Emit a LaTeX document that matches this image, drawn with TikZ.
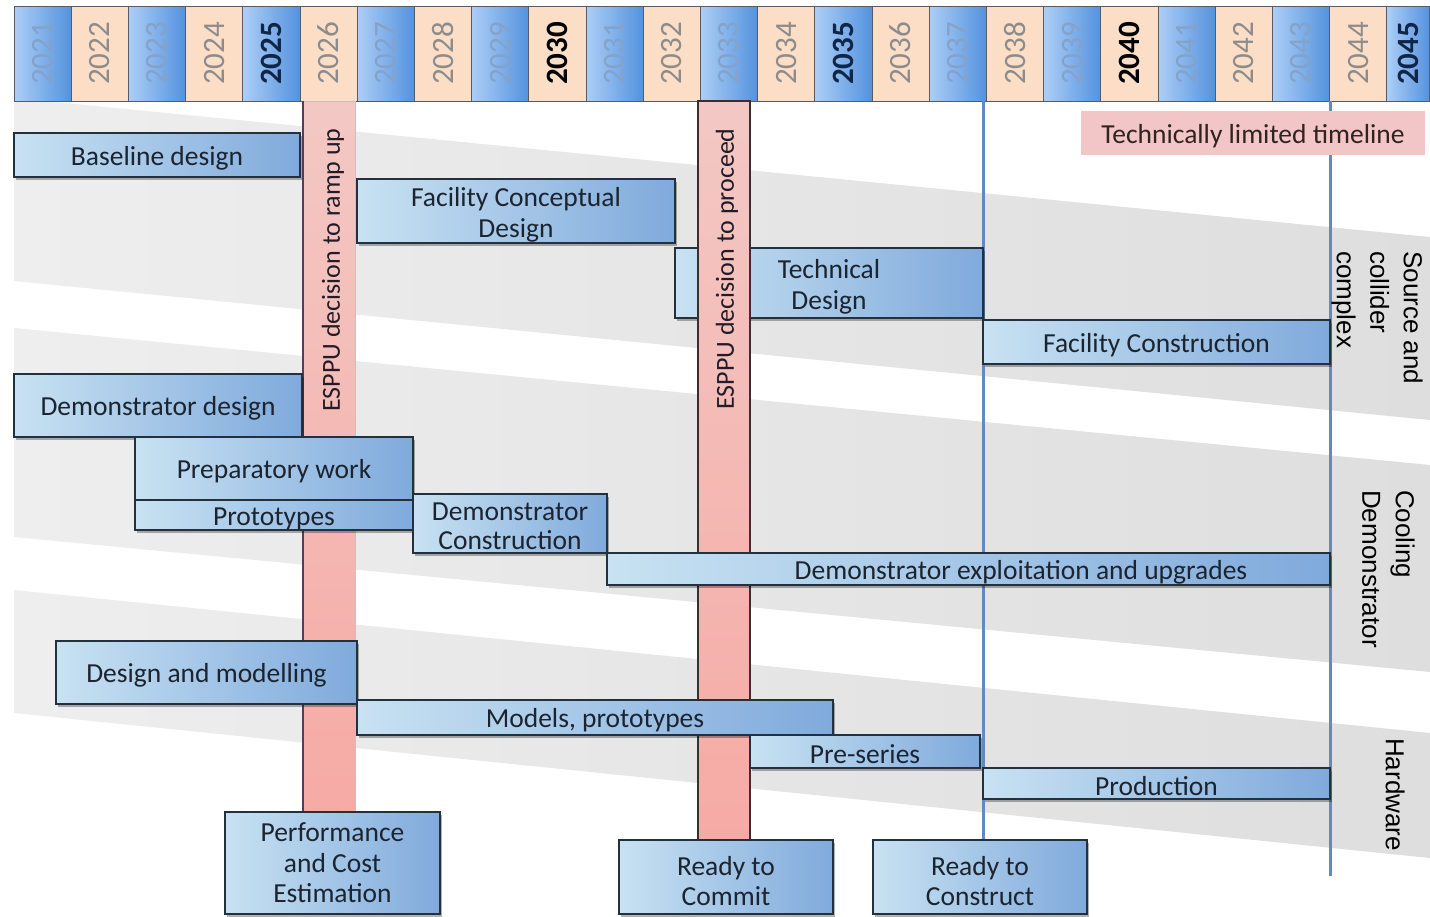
\documentclass[tikz,border=0pt]{standalone}
\usepackage{fontspec}
\usepackage{graphicx}
\setmainfont{Carlito}
\newfontfamily\arialfont{Liberation Sans}
\usetikzlibrary{shadows}
\definecolor{boxL}{RGB}{200,226,242}
\definecolor{boxR}{RGB}{128,170,220}
\definecolor{boxline}{RGB}{35,48,62}
\definecolor{boxtext}{RGB}{28,36,48}
\definecolor{cellLb}{RGB}{172,206,246}
\definecolor{cellRb}{RGB}{84,146,222}
\definecolor{cellLp}{RGB}{252,221,198}
\definecolor{cellRp}{RGB}{252,221,198}
\definecolor{ytf}{RGB}{132,162,202}
\definecolor{ytg}{RGB}{140,140,140}
\definecolor{ytn}{RGB}{16,38,72}
\definecolor{ytk}{RGB}{0,0,0}
\definecolor{barT}{RGB}{243,200,196}
\definecolor{barB}{RGB}{246,170,165}
\definecolor{baredge}{RGB}{84,60,92}
\definecolor{baredgeB}{RGB}{60,45,50}
\definecolor{vline}{RGB}{96,138,192}
\definecolor{bandL}{RGB}{238,238,238}
\definecolor{bandR}{RGB}{222,222,222}
\definecolor{limitfill}{RGB}{242,198,198}
\definecolor{celledge}{RGB}{90,90,100}
\newcommand\ywf{}
\newcommand\ywg{}
\newcommand\ywn{\bfseries}
\newcommand\ywk{\bfseries}
\newcommand\yearfont{\fontsize{31}{31}\selectfont}
\newcommand\taskstrut{\rule{0pt}{25pt}}
\newcommand\tallstrut{\rule{0pt}{27pt}}
\newcommand\midstrut{\rule{0pt}{24pt}}
\pgfdeclarelayer{back}
\pgfdeclarelayer{guides}
\pgfdeclarelayer{bars}
\pgfsetlayers{back,guides,bars,main}
\begin{document}
\begin{tikzpicture}[x=1pt, y=-1pt,
  task/.style={draw=boxline, line width=1.5pt, left color=boxL, right color=boxR,
    text=boxtext, font=\fontsize{27.5}{30.5}\selectfont, align=center,
    inner sep=0pt, outer sep=0pt, execute at begin node=\taskstrut,
    drop shadow={shadow xshift=2pt, shadow yshift=-2.5pt, opacity=0.3, fill=black}},
  tasklabel/.style={text=boxtext, font=\fontsize{27.5}{30.5}\selectfont, inner sep=0pt,
    execute at begin node=\taskstrut},
  yearcell/.style={draw=celledge, line width=0.8pt, minimum width=57.2pt, minimum height=95pt,
    inner sep=0pt, outer sep=0pt, anchor=north west},
  barbox/.style={top color=barT, bottom color=barB, inner sep=0pt, outer sep=0pt, anchor=north west},
  bartext/.style={text={rgb,255:red,35;green,28;blue,40}, font=\fontsize{26}{30}\selectfont, inner sep=0pt},
  limitbox/.style={fill=limitfill, text={rgb,255:red,50;green,35;blue,35}, font=\fontsize{27.5}{30.5}\selectfont,
    inner sep=0pt, outer sep=0pt, anchor=north west, execute at begin node=\taskstrut},
  vguide/.style={draw=vline, line width=3pt},
  side/.style={font=\arialfont\fontsize{26}{33.5}\selectfont, align=left, inner sep=0pt, rotate=-90, anchor=north west}
]
\useasboundingbox (0,0) rectangle (1430,916);
\clip (0,0) rectangle (1430,916);

\begin{pgfonlayer}{back}
\fill[white] (0,0) rectangle (1430,916);
\shade[left color=bandL, right color=bandR] (14,98) -- (1430,237) -- (1430,420) -- (14,281) -- cycle;
\shade[left color=bandL, right color=bandR] (14,328) -- (1430,465) -- (1430,672) -- (14,537) -- cycle;
\shade[left color=bandL, right color=bandR] (14,590) -- (1430,733) -- (1430,858) -- (14,713) -- cycle;
\foreach \yr/\c/\t [count=\i from 0] in {2021/b/f, 2022/p/g, 2023/b/f, 2024/p/g, 2025/b/n,
   2026/p/g, 2027/b/f, 2028/p/g, 2029/b/f, 2030/p/k, 2031/b/f, 2032/p/g, 2033/b/f,
   2034/p/g, 2035/b/n, 2036/p/g, 2037/b/f, 2038/p/g, 2039/b/f, 2040/p/k, 2041/b/f,
   2042/p/g, 2043/b/f, 2044/p/g}
  \node[yearcell, left color=cellL\c, right color=cellR\c, text=yt\t,
        font=\yearfont\csname yw\t\endcsname] (yr\yr) at ({14+57.2*\i},6) {\rotatebox{90}{\yr}};
\node[yearcell, minimum width=43pt, left color=cellLb, right color=cellRb, text=ytn,
      font=\yearfont\bfseries] (yr2045) at (1386.8,6) {\rotatebox{90}{2045}};
\end{pgfonlayer}

% task boxes
\node[task, minimum width=286pt, minimum height=44pt] (base) at (157,155) {Baseline design};
\node[task, minimum width=318pt, minimum height=64pt] (fcd) at (516,211) {\tallstrut Facility Conceptual\\Design};
\node[task, minimum width=347pt, minimum height=44pt] (fc) at (1156.5,342) {Facility Construction};
\node[task, minimum width=288pt, minimum height=63pt] (dd) at (158,405.5) {Demonstrator design};
\node[task, minimum width=278pt, minimum height=63pt] (prep) at (274,468.5) {Preparatory work};
\node[task, minimum width=278pt, minimum height=30pt] (proto) at (274,515) {Prototypes};
\node[task, minimum width=194pt, minimum height=59pt, font=\fontsize{27.5}{29}\selectfont] (dc) at (510,523.5) {\midstrut Demonstrator\\Construction};
\node[task, minimum width=723pt, minimum height=32pt] (dex) at (968.5,569) {};
\node[tasklabel] (dexl) at (1021,569) {Demonstrator exploitation and upgrades};
\node[task, minimum width=301pt, minimum height=63pt] (dm) at (206.5,672.5) {Design and modelling};
\node[task, minimum width=476pt, minimum height=35pt] (mp) at (595,717.5) {Models, prototypes};
\node[task, minimum width=230pt, minimum height=33pt] (ps) at (865,751.5) {Pre-series};
\node[task, minimum width=347pt, minimum height=31pt] (prod) at (1156.5,783.5) {Production};
\node[task, minimum width=215pt, minimum height=102pt] (pce) at (332.5,863) {Performance\\and Cost\\Estimation};
\node[task, minimum width=214pt, minimum height=74pt] (rtc) at (726,877) {\tallstrut Ready to\\Commit};
\node[task, minimum width=214pt, minimum height=74pt] (rtcon) at (980,877) {\tallstrut Ready to\\Construct};

\node[limitbox, minimum width=344pt, minimum height=44pt] (limit) at (1081,111) {Technically limited timeline};

% side labels
\node[side] (lsrc) at (1423,251) {Source and\\collider\\complex};
\node[side] (lcool) at (1415,490) {Cooling\\Demonstrator};
\node[side] (lhw) at (1405,738) {Hardware};

\begin{pgfonlayer}{guides}
\coordinate (l2end) at (1330,876);
\draw[vguide] (fc.north west |- yr2038.south) -- (fc.north west |- rtcon.north);
\draw[vguide] (fc.north east |- yr2044.south) -- (l2end);
\node[task, minimum width=308pt, minimum height=70pt] (td) at (829,283) {\tallstrut Technical\\Design};
\end{pgfonlayer}

\begin{pgfonlayer}{bars}
\node[barbox, minimum width=52pt, minimum height=711pt, draw={rgb,255:red,205;green,190;blue,195}, line width=1pt] (bar1) at (303,101) {};
\draw[baredge, line width=2pt] (bar1.north west) -- (bar1.south west);
\node[bartext, rotate=90] (bar1t) at (333,270) {ESPPU decision to ramp up};
\node[barbox, minimum width=52pt, minimum height=739pt, draw=baredgeB, line width=1.5pt] (bar2) at (698,101) {};
\node[bartext, rotate=90] (bar2t) at (727,269) {ESPPU decision to proceed};
\end{pgfonlayer}
\end{tikzpicture}
\end{document}
